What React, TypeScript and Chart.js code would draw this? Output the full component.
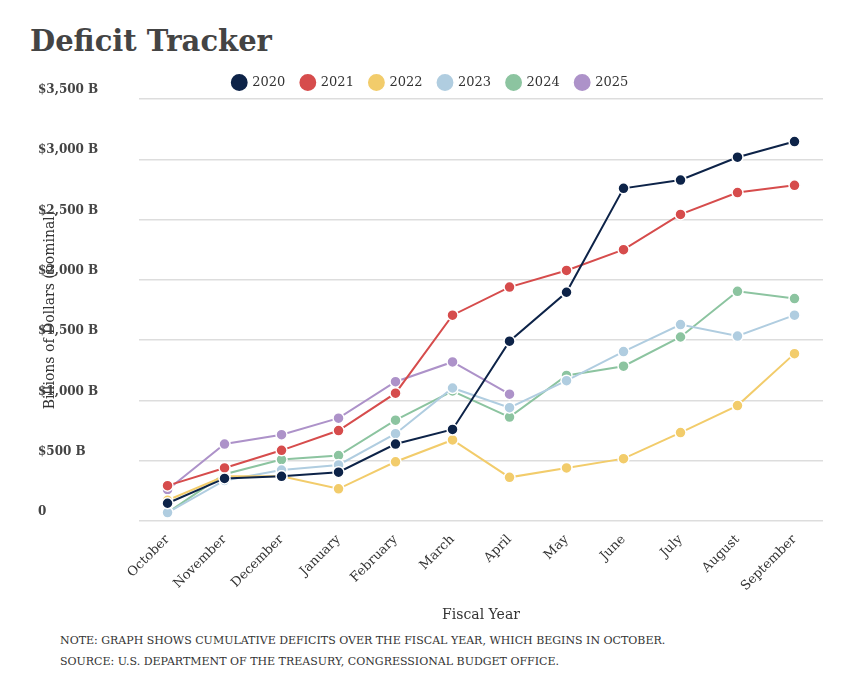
import React, { useEffect, useRef } from "react";
import { Chart, registerables } from "chart.js";
Chart.register(...registerables);

const months = ["October","November","December","January","February","March","April","May","June","July","August","September"];
const s2020 = [147,353,370,405,638,759,1491,1897,2759,2828,3017,3147];
const s2021 = [293,440,586,750,1060,1707,1940,2078,2250,2543,2724,2784];
const s2022 = [172,370,370,267,491,672,362,440,517,733,957,1388];
const s2023 = [70,336,422,465,724,1103,940,1164,1405,1629,1534,1707];
const s2024 = [69,388,509,543,836,1078,862,1207,1284,1526,1905,1845];
const s2025 = [259,638,716,853,1155,1319,1052];
const colors = ["#0d2348","#d64c4c","#f2cc6b","#b0cde0","#8cc4a0","#ad92c9"];
const labels = ["2020","2021","2022","2023","2024","2025"];
const series = [s2020,s2021,s2022,s2023,s2024,s2025];
const font = "'DejaVu Serif', serif";

export default function App() {
  const ref = useRef<HTMLCanvasElement>(null);
  useEffect(() => {
    const c = new Chart(ref.current!, {
      type: "line",
      data: {
        labels: months,
        datasets: series.map((d, i) => ({
          label: labels[i], data: d, borderColor: colors[i], backgroundColor: colors[i],
          pointBorderColor: "#fff", pointBorderWidth: 1.5, pointRadius: 5.5, borderWidth: 2,
        })),
      },
      options: {
        animation: false, responsive: false,
        layout: { padding: { left: 30, right: 20 } },
        plugins: {
          legend: { labels: { usePointStyle: true, pointStyle: "circle", boxWidth: 14, boxHeight: 14, padding: 16, color: "#333", font: { family: font, size: 13 } } },
          tooltip: { enabled: false },
        },
        scales: {
          y: {
            min: 0, max: 3500,
            border: { display: false },
            grid: { color: "#dddddd", lineWidth: 1.5, drawTicks: false },
            title: { display: true, text: "Billions of Dollars (nominal)", color: "#333", font: { family: font, size: 14 } },
            ticks: { stepSize: 500, padding: 8, labelOffset: -9, crossAlign: "far", color: "#444", font: { family: font, size: 12, weight: "bold" },
              callback: (v: any) => v === 0 ? "0" : "$" + Number(v).toLocaleString("en-US") + " B" },
          },
          x: {
            offset: true,
            grid: { display: false }, border: { display: false },
            title: { display: true, text: "Fiscal Year", color: "#333", font: { family: font, size: 14 }, padding: { top: 10 } },
            ticks: { maxRotation: 45, minRotation: 45, color: "#333", font: { family: font, size: 13 } },
          },
        },
      },
    });
    return () => c.destroy();
  }, []);
  return (
    <div style={{ width: 847, height: 672, position: "relative", fontFamily: font, color: "#444" }}>
      <div style={{ position: "absolute", left: 22, top: 16, fontSize: 29, fontWeight: "bold", color: "#444" }}>Deficit Tracker</div>
      <canvas ref={ref} width={835} height={568} style={{ position: "absolute", left: 0, top: 52 }} />
      <div style={{ position: "absolute", left: 52, top: 622, fontSize: 11, lineHeight: "21px", color: "#333" }}>
        <div>NOTE: GRAPH SHOWS CUMULATIVE DEFICITS OVER THE FISCAL YEAR, WHICH BEGINS IN OCTOBER.</div>
        <div>SOURCE: U.S. DEPARTMENT OF THE TREASURY, CONGRESSIONAL BUDGET OFFICE.</div>
      </div>
    </div>
  );
}
